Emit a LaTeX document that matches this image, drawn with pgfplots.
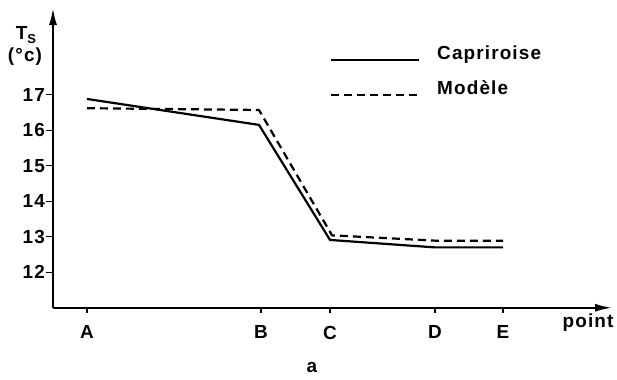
\documentclass[border=0pt]{standalone}
\usepackage{fontspec}
\setmainfont{Liberation Sans}[LetterSpace=6]
\usepackage{pgfplots}
\usepackage{pgfplotstable}
\pgfplotsset{compat=1.18}
\usetikzlibrary{arrows.meta}

% Surface temperature along the points A--E (x given as positions along the section)
\pgfplotstableread{
x   y
87  16.88
259 16.15
330 12.91
435 12.70
503 12.70
}\capriroise
\pgfplotstableread{
x   y
87  16.62
259 16.57
332 13.04
435 12.89
503 12.89
}\modele

\begin{document}
\begin{tikzpicture}[font=\fontsize{19}{22}\selectfont\bfseries]
\begin{axis}[
  scale only axis,
  width=559bp, height=299.7bp,
  xmin=53, xmax=612, ymin=11, ymax=19.44,
  axis lines=left,
  axis line style={line width=2bp, -{Latex[length=17bp,width=8bp]}},
  tick align=outside,
  major tick length=7bp,
  tick style={line width=1.3bp, black},
  xtick={87,261,330,435,503},
  xticklabels={A,B,C,D,E},
  xtick style={/pgfplots/major tick length=5bp},
  ytick={12,13,14,15,16,17},
  yticklabel style={inner sep=0pt, xshift=-1bp},
  xticklabel style={inner sep=0pt, yshift=-11bp},
  /pgf/number format/assume math mode=true,
  clip=false,
  legend style={at={(axis cs:330,18.35)}, anchor=north west, draw=none, fill=none,
    inner sep=0pt, outer sep=0pt, row sep=18bp, column sep=17bp,
    nodes={inner sep=0pt, text height=13bp, text depth=4bp, anchor=base west}},
  legend cell align=left,
  legend image code/.code={\draw[#1] (0bp,0bp) -- (88bp,0bp);},
]
\addplot[black, line width=2.2bp] table[x=x,y=y] {\capriroise};
\addlegendentry{Capriroise}
\addplot[black, line width=2.2bp, dash pattern=on 8bp off 5bp] table[x=x,y=y] {\modele};
\addlegendentry{Modèle}

\node at (axis cs:26,18.68) {T\raisebox{-4bp}{\fontsize{13}{13}\selectfont S}};
\node at (axis cs:25,18.06) {(°c)};
\node at (axis cs:588,10.57) {point};
\node at (axis cs:312,9.33) {a};

% page extent
\path (axis cs:0,19.667) rectangle (axis cs:617,8.99);
\end{axis}
\end{tikzpicture}
\end{document}
